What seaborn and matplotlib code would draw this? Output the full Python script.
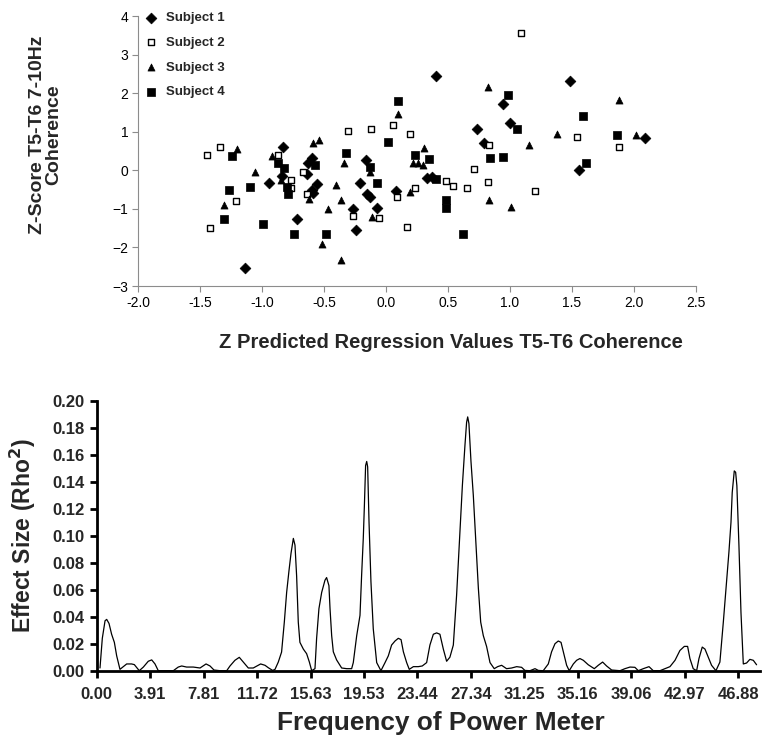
import numpy as np
import pandas as pd
import matplotlib
matplotlib.use("Agg")
import matplotlib.pyplot as plt
import seaborn as sns

# ---------------- data ----------------
s1_x = [-1.14, 0.40, 1.48, 0.94, 1.00, 0.73, 0.79, 2.09, 1.56, -0.83, -0.60, -0.63, -0.64, -0.84, -0.94,
        -0.56, -0.60, -0.59, -0.72, -0.16, -0.21, -0.15, -0.13, 0.08, 0.33, 0.37, -0.27, -0.07, -0.24]
s1_y = [-2.54, 2.44, 2.31, 1.71, 1.22, 1.06, 0.72, 0.85, 0.00, 0.60, 0.31, 0.20, -0.10, -0.15, -0.33,
        -0.36, -0.50, -0.60, -1.27, 0.26, -0.33, -0.61, -0.69, -0.54, -0.20, -0.18, -1.00, -0.98, -1.55]

s2_x = [-1.34, 1.09, -0.31, -0.12, 0.06, 0.19, 0.83, 1.54, 1.88, -1.44, -0.87, -0.67, -0.77, -0.77,
        -0.64, -1.21, -1.42, 0.71, 0.48, 0.54, 0.65, 0.82, 0.23, 0.09, -0.27, -0.06, 0.17, 1.20]
s2_y = [0.60, 3.55, 1.01, 1.06, 1.17, 0.93, 0.65, 0.86, 0.60, 0.39, 0.39, -0.05, -0.26, -0.47,
        -0.62, -0.79, -1.50, 0.03, -0.28, -0.41, -0.47, -0.31, -0.47, -0.69, -1.19, -1.24, -1.47, -0.54]

s3_x = [-1.20, -0.59, -0.54, 0.82, 0.10, 0.31, 1.15, 1.88, 1.38, 2.02, -0.92, -0.85, -1.06, -1.31,
        -0.62, -0.40, -0.47, -0.52, -0.34, -0.36, -0.13, -0.11, -0.36, 0.19, 0.22, 0.26, 0.30, 0.83, 1.01]
s3_y = [0.55, 0.70, 0.78, 2.15, 1.47, 0.57, 0.65, 1.81, 0.93, 0.91, 0.36, -0.26, -0.05, -0.90,
        -0.75, -0.39, -1.00, -1.92, 0.20, -0.78, -0.05, -1.21, -2.33, -0.57, 0.18, 0.18, 0.13, -0.78, -0.96]

s4_x = [0.10, 0.98, 1.06, 0.02, 1.59, 1.86, -1.24, -0.87, -0.82, -0.57, -1.27, -1.10, -0.80, -0.79,
        -1.31, -0.99, -0.74, -0.48, -0.32, -0.13, 0.23, 0.35, -0.07, 0.40, 0.48, 0.48, 0.62, 0.84, 0.94, 1.61]
s4_y = [1.79, 1.95, 1.06, 0.73, 1.42, 0.91, 0.36, 0.20, 0.05, 0.13, -0.50, -0.44, -0.44, -0.62,
        -1.27, -1.38, -1.64, -1.64, 0.44, 0.08, 0.39, 0.28, -0.34, -0.23, -0.78, -0.98, -1.64, 0.31, 0.34, 0.18]

subjects = ["Subject 1", "Subject 2", "Subject 3", "Subject 4"]

freq = [0.24, 0.41, 0.61, 0.73, 0.90, 1.09, 1.29, 1.46, 1.70, 1.95, 2.19, 2.55, 2.75, 3.11, 3.41, 3.77,
        4.02, 4.26, 4.50, 4.99, 5.60, 5.96, 6.21, 6.57, 7.06, 7.55, 7.99, 8.28, 8.57, 9.01, 9.50, 9.74,
        10.10, 10.42, 10.71, 11.08, 11.44, 11.98, 12.30, 12.54, 12.86, 13.03, 13.27, 13.51, 13.71, 13.88,
        14.05, 14.20, 14.37, 14.49, 14.61, 14.73, 14.85, 15.10, 15.34, 15.54, 15.71,
        15.95, 16.07, 16.24, 16.44, 16.68, 16.80, 16.97, 17.05, 17.17, 17.29, 17.53, 17.90, 18.27, 18.63,
        18.75, 19.00, 19.24, 19.36, 19.48, 19.56, 19.65, 19.73, 19.80, 19.90, 20.04, 20.21, 20.46, 20.77,
        21.07, 21.31, 21.55, 21.80, 22.04, 22.24, 22.41, 22.65, 22.84, 23.14, 23.50, 23.79, 24.11, 24.35,
        24.60, 24.84, 25.08, 25.33, 25.57, 25.81, 26.06, 26.30, 26.55, 26.72, 26.91, 27.03, 27.11, 27.20,
        27.35, 27.52, 27.69, 27.89, 28.06, 28.25, 28.49, 28.74, 29.05, 29.30, 29.59, 29.95, 30.32, 30.69,
        31.05, 31.29, 31.66, 32.03, 32.27, 32.63, 33.00, 33.24, 33.49, 33.73, 33.93, 34.10, 34.34,
        34.53, 34.83, 35.07, 35.31, 35.56, 35.92, 36.36, 36.65, 36.97, 37.26, 37.63, 38.24, 38.60, 38.97,
        39.33, 39.58, 39.94, 40.36, 40.67, 41.16, 41.52, 41.89, 42.26, 42.62, 42.94, 43.18, 43.35, 43.59,
        43.84, 44.01, 44.25, 44.45, 44.69, 44.93, 45.25, 45.54, 45.79, 46.03, 46.20, 46.35, 46.44, 46.59,
        46.69, 46.78, 46.93, 47.08, 47.25, 47.49, 47.73, 47.98, 48.22]
rho2 = [0.002, 0.024, 0.037, 0.038, 0.035, 0.027, 0.021, 0.011, 0.001, 0.003, 0.005, 0.005, 0.0045, 0.0,
        0.0027, 0.007, 0.008, 0.005, 0.0, 0.0, 0.0, 0.0027, 0.0035, 0.0027, 0.0027, 0.002, 0.005, 0.0035,
        0.0005, 0.0, 0.0, 0.0035, 0.0077, 0.0099, 0.0064, 0.002, 0.002, 0.005, 0.004, 0.0022, 0.0002,
        0.001, 0.0064, 0.0138, 0.036, 0.058, 0.074, 0.087, 0.098, 0.093, 0.070, 0.036, 0.021, 0.016,
        0.0126, 0.0064, 0.0,
        0.0015, 0.024, 0.046, 0.058, 0.067, 0.069, 0.063, 0.046, 0.026, 0.014, 0.008, 0.002, 0.0015,
        0.0015, 0.006, 0.026, 0.041, 0.071, 0.098, 0.122, 0.152, 0.155, 0.151, 0.110, 0.066, 0.031,
        0.006, 0.0, 0.006, 0.011, 0.019, 0.022, 0.024, 0.023, 0.014, 0.006, 0.001, 0.003, 0.003, 0.0035,
        0.006, 0.019, 0.027, 0.028, 0.027, 0.016, 0.007, 0.010, 0.019, 0.056, 0.105, 0.137, 0.167, 0.184,
        0.188, 0.183, 0.155, 0.130, 0.098, 0.061, 0.036, 0.026, 0.018, 0.006, 0.0015, 0.003, 0.004,
        0.0015, 0.002, 0.003, 0.0025, 0.0002, 0.0, 0.0015, 0.0002, 0.0, 0.005, 0.014, 0.020, 0.022,
        0.021, 0.014, 0.004, 0.0, 0.005, 0.0077, 0.009, 0.0077, 0.0044, 0.0015, 0.004, 0.0064, 0.0035,
        0.0005, 0.0, 0.0015, 0.0027, 0.0025, 0.0, 0.0015, 0.003, 0.0, 0.0, 0.0015, 0.003, 0.0077, 0.015,
        0.018, 0.018, 0.009, 0.0015, 0.0, 0.009, 0.0175, 0.016, 0.010, 0.004, 0.0, 0.0064, 0.036, 0.066,
        0.088, 0.110, 0.132, 0.148, 0.147, 0.137, 0.093, 0.043, 0.005, 0.0057, 0.0084, 0.0077, 0.0044]

freq_ticks = [0.00, 3.91, 7.81, 11.72, 15.63, 19.53, 23.44, 27.34, 31.25, 35.16, 39.06, 42.97, 46.88]

# ---------------- style ----------------
sns.set_theme(style="white")
plt.rcParams["font.family"] = ["Liberation Sans", "DejaVu Sans"]

fig = plt.figure(figsize=(7.62, 7.48), dpi=100)

# ---------------- top scatter ----------------
ax1 = fig.add_axes([138 / 762, 1 - 286 / 748, 558 / 762, 270 / 748])
styles = [
    dict(marker="D", s=30, color="black", edgecolor="black", linewidth=0.5),
    dict(marker="s", s=13, facecolor="white", edgecolor="black", linewidth=1.0),
    dict(marker="^", s=26, color="black", edgecolor="black", linewidth=0.5),
    dict(marker="s", s=28, color="black", edgecolor="black", linewidth=0.5),
]
for name, xs, ys, st in zip(subjects, [s1_x, s2_x, s3_x, s4_x], [s1_y, s2_y, s3_y, s4_y], styles):
    df = pd.DataFrame({"x": xs, "y": ys})
    sns.scatterplot(data=df, x="x", y="y", ax=ax1, label=name, **st)

ax1.set_xlim(-2.0, 2.5)
ax1.set_ylim(-3, 4)
ax1.set_xticks(np.arange(-2.0, 2.51, 0.5))
ax1.set_xticklabels([f"{v:.1f}" for v in np.arange(-2.0, 2.51, 0.5)])
ax1.set_yticks(range(-3, 5))
for side in ["top", "right"]:
    ax1.spines[side].set_visible(False)
for side in ["left", "bottom"]:
    ax1.spines[side].set_color("#8c8c8c")
    ax1.spines[side].set_linewidth(0.8)
ax1.tick_params(axis="both", which="major", direction="out", length=4, width=0.8,
                color="#8c8c8c", labelsize=10, labelcolor="black", left=True, bottom=True, pad=3)
ax1.set_xlabel("Z Predicted Regression Values T5-T6 Coherence", fontsize=14.5, fontweight="bold")
ax1.set_ylabel("Z-Score T5-T6 7-10Hz\nCoherence", fontsize=14, fontweight="bold", linespacing=1.0)
ax1.xaxis.set_label_coords(0.561, -0.175)
ax1.yaxis.set_label_coords(-0.135, 0.559)
leg = ax1.legend(loc="upper left", bbox_to_anchor=(0.0, 1.035), frameon=False,
                 prop={"weight": "bold", "size": 9.5}, handletextpad=0.5, labelspacing=0.95,
                 handlelength=1.2, borderaxespad=0.0)

# ---------------- bottom line ----------------
ax2 = fig.add_axes([96.7 / 762, 1 - 670.7 / 748, (760 - 96.7) / 762, 270 / 748])
ldf = pd.DataFrame({"freq": freq, "rho2": rho2})
sns.lineplot(data=ldf, x="freq", y="rho2", ax=ax2, color="black", linewidth=0.9)
ax2.set_xlim(0, 48.47)
ax2.set_ylim(0, 0.20)
ax2.set_yticks(np.arange(0, 0.201, 0.02))
ax2.set_yticklabels([f"{v:.2f}" for v in np.arange(0, 0.201, 0.02)])
ax2.set_xticks(freq_ticks)
ax2.set_xticklabels([f"{v:.2f}" for v in freq_ticks])
for side in ["top", "right"]:
    ax2.spines[side].set_visible(False)
for side in ["left", "bottom"]:
    ax2.spines[side].set_color("black")
    ax2.spines[side].set_linewidth(2.0)
ax2.tick_params(axis="x", which="major", direction="out", length=5, width=2.0,
                color="black", labelsize=12, bottom=True, pad=7)
ax2.tick_params(axis="y", which="major", direction="out", length=5, width=2.0,
                color="black", labelsize=12, left=True, pad=4)
for lab in ax2.get_xticklabels() + ax2.get_yticklabels():
    lab.set_fontweight("bold")
ax2.set_xlabel("Frequency of Power Meter", fontsize=18.9, fontweight="bold")
ax2.set_ylabel("Effect Size (Rho$^\\mathbf{2}$)", fontsize=16.5, fontweight="bold")
ax2.xaxis.set_label_coords(0.519, -0.15)
ax2.yaxis.set_label_coords(-0.0885, 0.5)

fig.savefig("out.png", dpi=100, facecolor="white")
